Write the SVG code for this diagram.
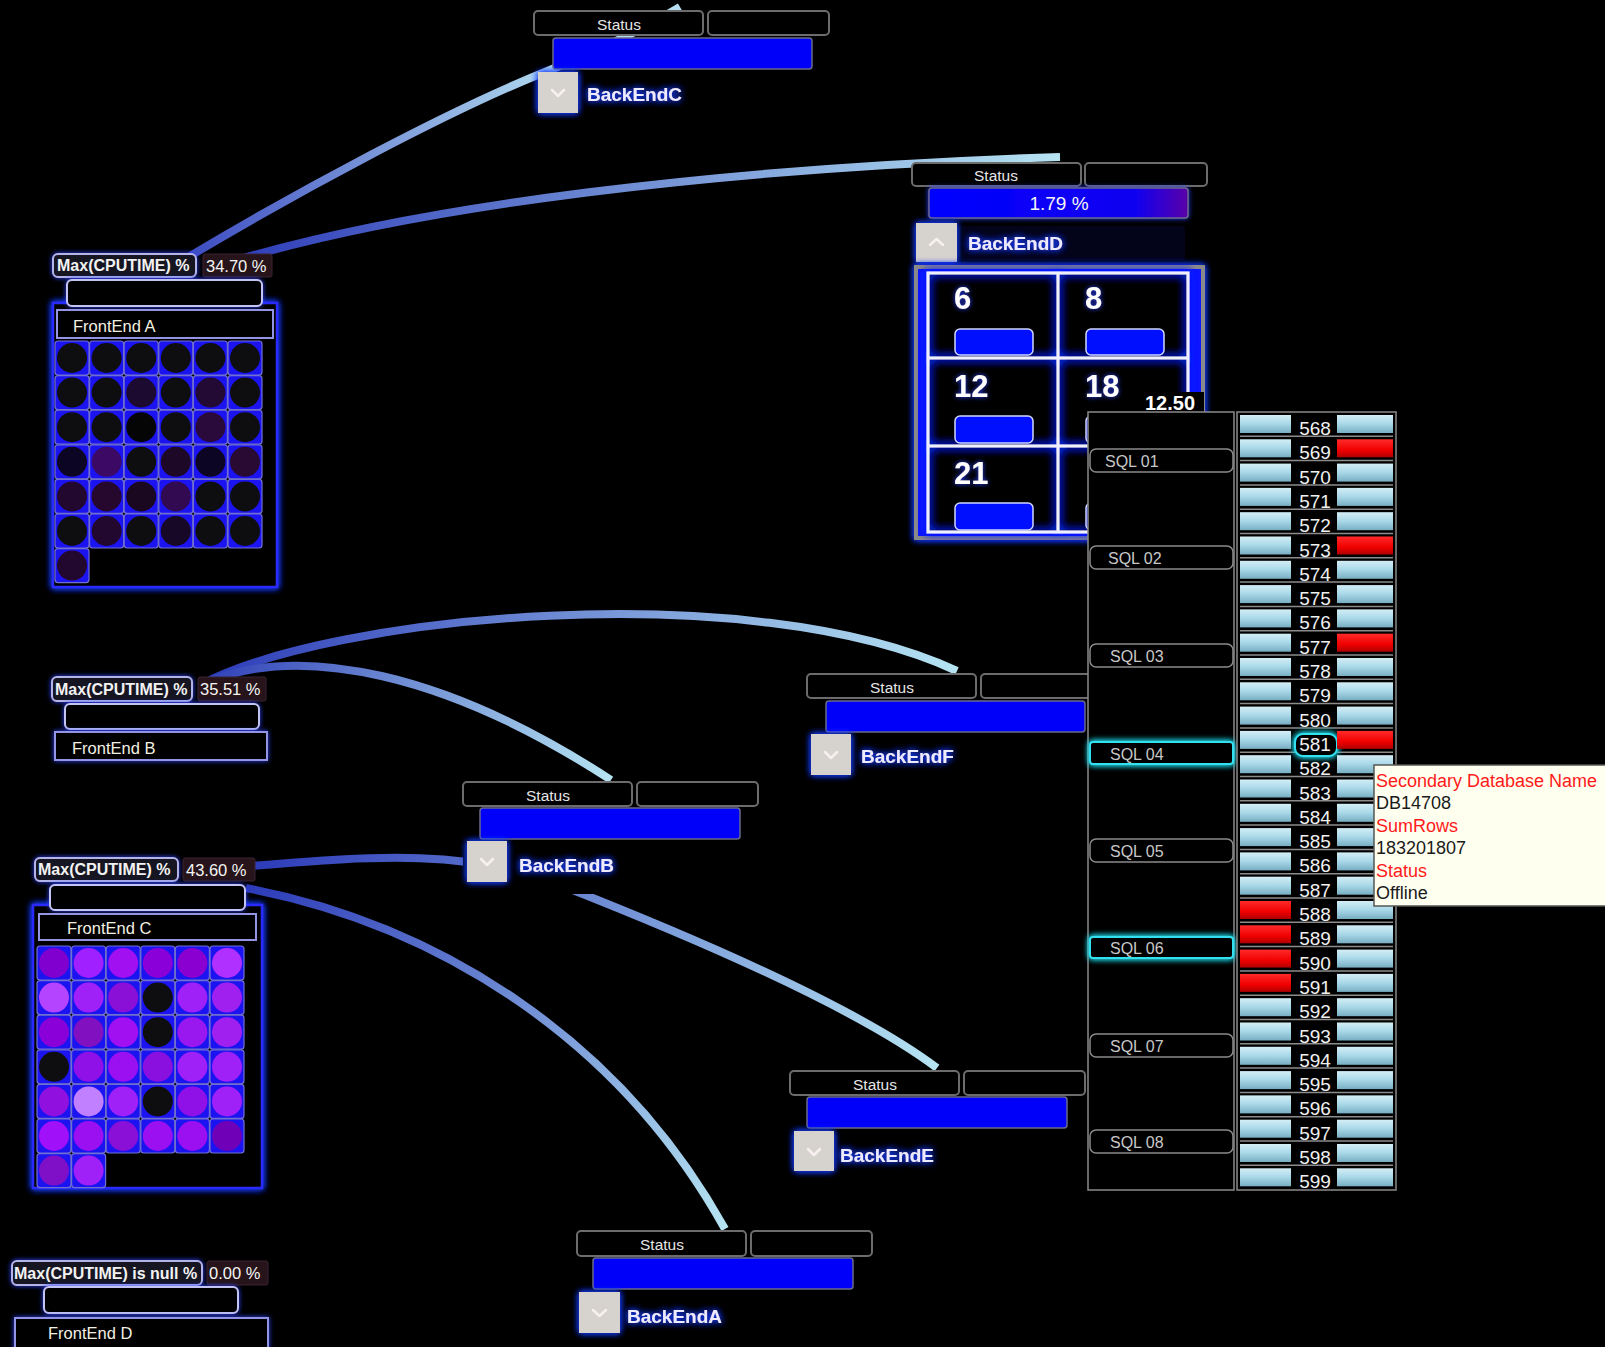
<svg xmlns="http://www.w3.org/2000/svg" width="1605" height="1347" viewBox="0 0 1605 1347">
<defs>
<style>
.ff{font-family:"Liberation Sans",Arial,sans-serif}
.st{fill:#000;stroke:#6c6c6c;stroke-width:2}
.bar{fill:#0000fa;stroke:#6a6a8a;stroke-width:1.5}
.tg{fill:#d6d2ce}
.chev{fill:none;stroke:#f8f0f0;stroke-width:2.5;stroke-linecap:round;stroke-linejoin:round}
.lbl{font-family:"Liberation Sans",Arial,sans-serif;font-weight:bold;font-size:19px;fill:#ecebff}
.sttxt{font-family:"Liberation Sans",Arial,sans-serif;font-size:15.5px;fill:#e6e6e6;text-anchor:middle}
.mx{fill:#141424;stroke:#b4b4e8;stroke-width:2}
.mxt{font-family:"Liberation Sans",Arial,sans-serif;font-weight:bold;font-size:16px;fill:#f2f2f2}
.val{fill:#26141a;stroke:#3a2232;stroke-width:1}
.valt{font-family:"Liberation Sans",Arial,sans-serif;font-size:16.5px;fill:#f4f4f4}
.eb{fill:#000;stroke:#c4c4f4;stroke-width:2}
.cont{fill:#000;stroke:#2a2aff;stroke-width:2.5}
.fl{fill:#000;stroke:#9494e4;stroke-width:2}
.flt{font-family:"Liberation Sans",Arial,sans-serif;font-size:16.5px;fill:#f2f0e2}
.cell{fill:#1c14f0;stroke:#7070d0;stroke-width:1.2}
.num{font-family:"Liberation Sans",Arial,sans-serif;font-weight:bold;font-size:31px;fill:#fff}
.cb{fill:#0010ff;stroke:#d0d6ff;stroke-width:1.5}
.sqlb{fill:#000;stroke:#8a8a8a;stroke-width:1.5}
.sqlt{font-family:"Liberation Sans",Arial,sans-serif;font-size:16px;fill:#c8c8c8}
.lb{fill:url(#gBlue)}
.rb{fill:url(#gRed)}
.rn{font-family:"Liberation Sans",Arial,sans-serif;font-size:19px;fill:#f0f0f0;text-anchor:middle}
.tr{font-family:"Liberation Sans",Arial,sans-serif;font-size:18px;fill:#ff1a1a}
.tb{font-family:"Liberation Sans",Arial,sans-serif;font-size:18px;fill:#1a1a1a}
.cn{fill:none;stroke-width:8}
</style>
<filter id="glow" x="-30%" y="-30%" width="160%" height="160%">
<feGaussianBlur in="SourceAlpha" stdDeviation="3.5" result="b"/>
<feFlood flood-color="#1a3cff"/>
<feComposite in2="b" operator="in" result="g"/>
<feMerge><feMergeNode in="g"/><feMergeNode in="g"/><feMergeNode in="SourceGraphic"/></feMerge>
</filter>
<filter id="glowS" x="-30%" y="-30%" width="160%" height="160%">
<feGaussianBlur in="SourceAlpha" stdDeviation="2.5" result="b"/>
<feFlood flood-color="#2a40ff"/>
<feComposite in2="b" operator="in" result="g"/>
<feMerge><feMergeNode in="g"/><feMergeNode in="SourceGraphic"/></feMerge>
</filter>
<filter id="glowL" x="-10%" y="-10%" width="120%" height="120%">
<feGaussianBlur in="SourceAlpha" stdDeviation="5" result="b"/>
<feFlood flood-color="#0a2aff"/>
<feComposite in2="b" operator="in" result="g"/>
<feMerge><feMergeNode in="g"/><feMergeNode in="g"/><feMergeNode in="g"/><feMergeNode in="SourceGraphic"/></feMerge>
</filter>
<filter id="glowC" x="-30%" y="-60%" width="160%" height="220%">
<feGaussianBlur in="SourceAlpha" stdDeviation="3" result="b"/>
<feFlood flood-color="#20d8e8"/>
<feComposite in2="b" operator="in" result="g"/>
<feMerge><feMergeNode in="g"/><feMergeNode in="g"/><feMergeNode in="SourceGraphic"/></feMerge>
</filter>
<linearGradient id="gBlue" x1="0" y1="0" x2="0" y2="1">
<stop offset="0" stop-color="#d4eef6"/><stop offset="0.5" stop-color="#a8d8e8"/><stop offset="1" stop-color="#78aec2"/>
</linearGradient>
<linearGradient id="gRed" x1="0" y1="0" x2="0" y2="1">
<stop offset="0" stop-color="#ff2a2a"/><stop offset="0.6" stop-color="#f00000"/><stop offset="1" stop-color="#b00000"/>
</linearGradient>
<linearGradient id="gD" x1="0" y1="0" x2="1" y2="0">
<stop offset="0" stop-color="#0000ff"/><stop offset="0.8" stop-color="#1000f0"/><stop offset="1" stop-color="#5a00a8"/>
</linearGradient>
<linearGradient id="c1" gradientUnits="userSpaceOnUse" x1="180" y1="262" x2="560" y2="60"><stop offset="0" stop-color="#3a48c0"/><stop offset="1" stop-color="#b4def0"/></linearGradient>
<linearGradient id="c2" gradientUnits="userSpaceOnUse" x1="230" y1="262" x2="1060" y2="157"><stop offset="0" stop-color="#2e3cb8"/><stop offset="1" stop-color="#b6e4f2"/></linearGradient>
<linearGradient id="c3" gradientUnits="userSpaceOnUse" x1="200" y1="685" x2="957" y2="671"><stop offset="0" stop-color="#2c3ab8"/><stop offset="1" stop-color="#b6e4f2"/></linearGradient>
<linearGradient id="c4" gradientUnits="userSpaceOnUse" x1="200" y1="685" x2="611" y2="780"><stop offset="0" stop-color="#3040b8"/><stop offset="1" stop-color="#b6e4f2"/></linearGradient>
<linearGradient id="c5" gradientUnits="userSpaceOnUse" x1="250" y1="866" x2="937" y2="1068"><stop offset="0" stop-color="#2c3ab8"/><stop offset="1" stop-color="#b6e4f2"/></linearGradient>
<linearGradient id="c6" gradientUnits="userSpaceOnUse" x1="246" y1="888" x2="725" y2="1229"><stop offset="0" stop-color="#2c3ab8"/><stop offset="1" stop-color="#b6e4f2"/></linearGradient>
<clipPath id="clipD"><rect x="900" y="380" width="304" height="40"/></clipPath>
</defs>
<rect x="0" y="0" width="1605" height="1347" fill="#000"/>

<g id="connectors">
<path class="cn" stroke="url(#c1)" d="M180,262 C300,190 450,110 545,72 C600,50 650,25 680,7"/>
<path class="cn" stroke="url(#c2)" d="M230,262 C420,205 720,168 1060,157"/>
<path class="cn" stroke="url(#c3)" d="M200,685 C330,615 750,575 957,671"/>
<path class="cn" stroke="url(#c4)" d="M200,685 C300,640 450,675 611,780"/>
<path class="cn" stroke="url(#c5)" d="M250,866 C380,855 470,850 560,885 C700,940 860,1010 937,1068"/>
<path class="cn" stroke="url(#c6)" d="M246,888 C440,925 620,1040 725,1229"/>
</g>

<g id="frontend-a">
<rect class="cont" x="53" y="303" width="224" height="284" filter="url(#glow)"/>
<rect class="mx" x="53" y="254" width="143" height="23" rx="5" filter="url(#glowS)"/>
<text class="mxt" x="57" y="271">Max(CPUTIME) %</text>
<rect class="val" x="203" y="254" width="69" height="23" rx="2"/>
<text class="valt" x="206" y="272">34.70 %</text>
<rect class="eb" x="67" y="280" width="195" height="26" rx="5" filter="url(#glowS)"/>
<rect class="fl" x="57" y="310" width="216" height="28"/>
<text class="flt" x="73" y="332">FrontEnd A</text>
<g>
<rect class="cell" x="55" y="341" width="34" height="34" rx="3"/><circle cx="72" cy="358" r="15" fill="#0e0e10"/>
<rect class="cell" x="89.6" y="341" width="34" height="34" rx="3"/><circle cx="106.6" cy="358" r="15" fill="#0e0e10"/>
<rect class="cell" x="124.2" y="341" width="34" height="34" rx="3"/><circle cx="141.2" cy="358" r="15" fill="#0e0e10"/>
<rect class="cell" x="158.8" y="341" width="34" height="34" rx="3"/><circle cx="175.8" cy="358" r="15" fill="#0e0e10"/>
<rect class="cell" x="193.4" y="341" width="34" height="34" rx="3"/><circle cx="210.4" cy="358" r="15" fill="#0e0e10"/>
<rect class="cell" x="228" y="341" width="34" height="34" rx="3"/><circle cx="245" cy="358" r="15" fill="#0e0e10"/>

<rect class="cell" x="55" y="375.6" width="34" height="34" rx="3"/><circle cx="72" cy="392.6" r="15" fill="#0e0e10"/>
<rect class="cell" x="89.6" y="375.6" width="34" height="34" rx="3"/><circle cx="106.6" cy="392.6" r="15" fill="#0e0e10"/>
<rect class="cell" x="124.2" y="375.6" width="34" height="34" rx="3"/><circle cx="141.2" cy="392.6" r="15" fill="#1c0a30"/>
<rect class="cell" x="158.8" y="375.6" width="34" height="34" rx="3"/><circle cx="175.8" cy="392.6" r="15" fill="#0e0e10"/>
<rect class="cell" x="193.4" y="375.6" width="34" height="34" rx="3"/><circle cx="210.4" cy="392.6" r="15" fill="#220a35"/>
<rect class="cell" x="228" y="375.6" width="34" height="34" rx="3"/><circle cx="245" cy="392.6" r="15" fill="#0e0e10"/>

<rect class="cell" x="55" y="410.2" width="34" height="34" rx="3"/><circle cx="72" cy="427.2" r="15" fill="#0e0e10"/>
<rect class="cell" x="89.6" y="410.2" width="34" height="34" rx="3"/><circle cx="106.6" cy="427.2" r="15" fill="#0e0e10"/>
<rect class="cell" x="124.2" y="410.2" width="34" height="34" rx="3"/><circle cx="141.2" cy="427.2" r="15" fill="#050505"/>
<rect class="cell" x="158.8" y="410.2" width="34" height="34" rx="3"/><circle cx="175.8" cy="427.2" r="15" fill="#0e0e10"/>
<rect class="cell" x="193.4" y="410.2" width="34" height="34" rx="3"/><circle cx="210.4" cy="427.2" r="15" fill="#2a0a3a"/>
<rect class="cell" x="228" y="410.2" width="34" height="34" rx="3"/><circle cx="245" cy="427.2" r="15" fill="#0e0e10"/>

<rect class="cell" x="55" y="444.8" width="34" height="34" rx="3"/><circle cx="72" cy="461.8" r="15" fill="#0c0624"/>
<rect class="cell" x="89.6" y="444.8" width="34" height="34" rx="3"/><circle cx="106.6" cy="461.8" r="15" fill="#3c0a64"/>
<rect class="cell" x="124.2" y="444.8" width="34" height="34" rx="3"/><circle cx="141.2" cy="461.8" r="15" fill="#0e0e10"/>
<rect class="cell" x="158.8" y="444.8" width="34" height="34" rx="3"/><circle cx="175.8" cy="461.8" r="15" fill="#1e0828"/>
<rect class="cell" x="193.4" y="444.8" width="34" height="34" rx="3"/><circle cx="210.4" cy="461.8" r="15" fill="#0c0624"/>
<rect class="cell" x="228" y="444.8" width="34" height="34" rx="3"/><circle cx="245" cy="461.8" r="15" fill="#280a32"/>

<rect class="cell" x="55" y="479.4" width="34" height="34" rx="3"/><circle cx="72" cy="496.4" r="15" fill="#22082e"/>
<rect class="cell" x="89.6" y="479.4" width="34" height="34" rx="3"/><circle cx="106.6" cy="496.4" r="15" fill="#26082e"/>
<rect class="cell" x="124.2" y="479.4" width="34" height="34" rx="3"/><circle cx="141.2" cy="496.4" r="15" fill="#1a0820"/>
<rect class="cell" x="158.8" y="479.4" width="34" height="34" rx="3"/><circle cx="175.8" cy="496.4" r="15" fill="#320a52"/>
<rect class="cell" x="193.4" y="479.4" width="34" height="34" rx="3"/><circle cx="210.4" cy="496.4" r="15" fill="#0e0e10"/>
<rect class="cell" x="228" y="479.4" width="34" height="34" rx="3"/><circle cx="245" cy="496.4" r="15" fill="#0e0e10"/>

<rect class="cell" x="55" y="514" width="34" height="34" rx="3"/><circle cx="72" cy="531" r="15" fill="#0e0e10"/>
<rect class="cell" x="89.6" y="514" width="34" height="34" rx="3"/><circle cx="106.6" cy="531" r="15" fill="#22082e"/>
<rect class="cell" x="124.2" y="514" width="34" height="34" rx="3"/><circle cx="141.2" cy="531" r="15" fill="#0e0e10"/>
<rect class="cell" x="158.8" y="514" width="34" height="34" rx="3"/><circle cx="175.8" cy="531" r="15" fill="#180828"/>
<rect class="cell" x="193.4" y="514" width="34" height="34" rx="3"/><circle cx="210.4" cy="531" r="15" fill="#0e0e10"/>
<rect class="cell" x="228" y="514" width="34" height="34" rx="3"/><circle cx="245" cy="531" r="15" fill="#0e0e10"/>

<rect class="cell" x="55" y="548.6" width="34" height="34" rx="3"/><circle cx="72" cy="565.6" r="15" fill="#22082e"/>
</g>
</g>

<g id="frontend-b">
<rect class="mx" x="52" y="677" width="140" height="24" rx="5" filter="url(#glowS)"/>
<text class="mxt" x="55" y="695">Max(CPUTIME) %</text>
<rect class="val" x="198" y="677" width="68" height="24" rx="2"/>
<text class="valt" x="200" y="695">35.51 %</text>
<rect class="eb" x="65" y="704" width="194" height="25" rx="5" filter="url(#glowS)"/>
<rect class="fl" x="55" y="732" width="212" height="28" filter="url(#glowS)"/>
<text class="flt" x="72" y="754">FrontEnd B</text>
</g>

<g id="frontend-c">
<rect class="cont" x="33" y="905" width="229" height="283" filter="url(#glow)"/>
<rect class="mx" x="35" y="858" width="143" height="23" rx="5" filter="url(#glowS)"/>
<text class="mxt" x="38" y="875">Max(CPUTIME) %</text>
<rect class="val" x="183" y="858" width="72" height="23" rx="2"/>
<text class="valt" x="186" y="876">43.60 %</text>
<rect class="eb" x="50" y="885" width="195" height="25" rx="5" filter="url(#glowS)"/>
<rect class="fl" x="39" y="914" width="217" height="26"/>
<text class="flt" x="67" y="934">FrontEnd C</text>
<g>
<rect class="cell" x="37" y="946" width="34" height="34" rx="3"/><circle cx="54" cy="963" r="15" fill="#8000d0"/>
<rect class="cell" x="71.6" y="946" width="34" height="34" rx="3"/><circle cx="88.6" cy="963" r="15" fill="#a020ff"/>
<rect class="cell" x="106.2" y="946" width="34" height="34" rx="3"/><circle cx="123.2" cy="963" r="15" fill="#a010f0"/>
<rect class="cell" x="140.8" y="946" width="34" height="34" rx="3"/><circle cx="157.8" cy="963" r="15" fill="#8a00d8"/>
<rect class="cell" x="175.4" y="946" width="34" height="34" rx="3"/><circle cx="192.4" cy="963" r="15" fill="#8a00d0"/>
<rect class="cell" x="210" y="946" width="34" height="34" rx="3"/><circle cx="227" cy="963" r="15" fill="#b030ff"/>

<rect class="cell" x="37" y="980.6" width="34" height="34" rx="3"/><circle cx="54" cy="997.6" r="15" fill="#b444ff"/>
<rect class="cell" x="71.6" y="980.6" width="34" height="34" rx="3"/><circle cx="88.6" cy="997.6" r="15" fill="#a020f8"/>
<rect class="cell" x="106.2" y="980.6" width="34" height="34" rx="3"/><circle cx="123.2" cy="997.6" r="15" fill="#8a10d8"/>
<rect class="cell" x="140.8" y="980.6" width="34" height="34" rx="3"/><circle cx="157.8" cy="997.6" r="15" fill="#0e0e10"/>
<rect class="cell" x="175.4" y="980.6" width="34" height="34" rx="3"/><circle cx="192.4" cy="997.6" r="15" fill="#a020f8"/>
<rect class="cell" x="210" y="980.6" width="34" height="34" rx="3"/><circle cx="227" cy="997.6" r="15" fill="#a020f0"/>

<rect class="cell" x="37" y="1015.2" width="34" height="34" rx="3"/><circle cx="54" cy="1032.2" r="15" fill="#8a00d8"/>
<rect class="cell" x="71.6" y="1015.2" width="34" height="34" rx="3"/><circle cx="88.6" cy="1032.2" r="15" fill="#8010c0"/>
<rect class="cell" x="106.2" y="1015.2" width="34" height="34" rx="3"/><circle cx="123.2" cy="1032.2" r="15" fill="#a010f0"/>
<rect class="cell" x="140.8" y="1015.2" width="34" height="34" rx="3"/><circle cx="157.8" cy="1032.2" r="15" fill="#0e0e10"/>
<rect class="cell" x="175.4" y="1015.2" width="34" height="34" rx="3"/><circle cx="192.4" cy="1032.2" r="15" fill="#9a18f0"/>
<rect class="cell" x="210" y="1015.2" width="34" height="34" rx="3"/><circle cx="227" cy="1032.2" r="15" fill="#a020f0"/>

<rect class="cell" x="37" y="1049.8" width="34" height="34" rx="3"/><circle cx="54" cy="1066.8" r="15" fill="#0e0e10"/>
<rect class="cell" x="71.6" y="1049.8" width="34" height="34" rx="3"/><circle cx="88.6" cy="1066.8" r="15" fill="#9010e8"/>
<rect class="cell" x="106.2" y="1049.8" width="34" height="34" rx="3"/><circle cx="123.2" cy="1066.8" r="15" fill="#9a10f0"/>
<rect class="cell" x="140.8" y="1049.8" width="34" height="34" rx="3"/><circle cx="157.8" cy="1066.8" r="15" fill="#8a10e0"/>
<rect class="cell" x="175.4" y="1049.8" width="34" height="34" rx="3"/><circle cx="192.4" cy="1066.8" r="15" fill="#a020f8"/>
<rect class="cell" x="210" y="1049.8" width="34" height="34" rx="3"/><circle cx="227" cy="1066.8" r="15" fill="#a020f8"/>

<rect class="cell" x="37" y="1084.4" width="34" height="34" rx="3"/><circle cx="54" cy="1101.4" r="15" fill="#9010e0"/>
<rect class="cell" x="71.6" y="1084.4" width="34" height="34" rx="3"/><circle cx="88.6" cy="1101.4" r="15" fill="#c080ff"/>
<rect class="cell" x="106.2" y="1084.4" width="34" height="34" rx="3"/><circle cx="123.2" cy="1101.4" r="15" fill="#a020f8"/>
<rect class="cell" x="140.8" y="1084.4" width="34" height="34" rx="3"/><circle cx="157.8" cy="1101.4" r="15" fill="#0e0e10"/>
<rect class="cell" x="175.4" y="1084.4" width="34" height="34" rx="3"/><circle cx="192.4" cy="1101.4" r="15" fill="#9010e8"/>
<rect class="cell" x="210" y="1084.4" width="34" height="34" rx="3"/><circle cx="227" cy="1101.4" r="15" fill="#a020f8"/>

<rect class="cell" x="37" y="1119" width="34" height="34" rx="3"/><circle cx="54" cy="1136" r="15" fill="#a010f8"/>
<rect class="cell" x="71.6" y="1119" width="34" height="34" rx="3"/><circle cx="88.6" cy="1136" r="15" fill="#9a10f0"/>
<rect class="cell" x="106.2" y="1119" width="34" height="34" rx="3"/><circle cx="123.2" cy="1136" r="15" fill="#8a10d8"/>
<rect class="cell" x="140.8" y="1119" width="34" height="34" rx="3"/><circle cx="157.8" cy="1136" r="15" fill="#9a10f0"/>
<rect class="cell" x="175.4" y="1119" width="34" height="34" rx="3"/><circle cx="192.4" cy="1136" r="15" fill="#9a10f0"/>
<rect class="cell" x="210" y="1119" width="34" height="34" rx="3"/><circle cx="227" cy="1136" r="15" fill="#7000b8"/>

<rect class="cell" x="37" y="1153.6" width="34" height="34" rx="3"/><circle cx="54" cy="1170.6" r="15" fill="#8010c8"/>
<rect class="cell" x="71.6" y="1153.6" width="34" height="34" rx="3"/><circle cx="88.6" cy="1170.6" r="15" fill="#a020f8"/>
</g>
</g>

<g id="frontend-d">
<rect class="mx" x="12" y="1261" width="190" height="24" rx="5" filter="url(#glowS)"/>
<text class="mxt" x="14" y="1279">Max(CPUTIME) is null %</text>
<rect class="val" x="207" y="1261" width="61" height="24" rx="2"/>
<text class="valt" x="209" y="1279">0.00 %</text>
<rect class="eb" x="44" y="1287" width="194" height="26" rx="5" filter="url(#glowS)"/>
<rect class="fl" x="15" y="1318" width="253" height="34" filter="url(#glowS)"/>
<text class="flt" x="48" y="1339">FrontEnd D</text>
</g>

<g id="backend-c" transform="translate(534,11)">
<rect class="st" x="0" y="0" width="169" height="24" rx="4"/>
<text class="sttxt" x="85" y="19">Status</text>
<rect class="st" x="174" y="0" width="121" height="24" rx="4"/>
<rect class="bar" x="19" y="27" width="259" height="31" rx="3"/>
<rect class="tg" x="4" y="61" width="40" height="41" filter="url(#glow)"/>
<polyline class="chev" points="18,79 24,85 30,79"/>
<text class="lbl" x="53" y="90" filter="url(#glow)">BackEndC</text>
</g>

<g id="backend-f" transform="translate(807,674)">
<rect class="st" x="0" y="0" width="169" height="24" rx="4"/>
<text class="sttxt" x="85" y="19">Status</text>
<rect class="st" x="174" y="0" width="121" height="24" rx="4"/>
<rect class="bar" x="19" y="27" width="259" height="31" rx="3"/>
<rect class="tg" x="4" y="60" width="40" height="41" filter="url(#glow)"/>
<polyline class="chev" points="18,78 24,84 30,78"/>
<text class="lbl" x="54" y="89" filter="url(#glow)">BackEndF</text>
</g>

<g id="backend-b" transform="translate(463,782)">
<rect x="0" y="56" width="160" height="56" fill="#000"/>
<rect class="st" x="0" y="0" width="169" height="24" rx="4"/>
<text class="sttxt" x="85" y="19">Status</text>
<rect class="st" x="174" y="0" width="121" height="24" rx="4"/>
<rect class="bar" x="17" y="26" width="260" height="31" rx="3"/>
<rect class="tg" x="4" y="59" width="40" height="41" filter="url(#glow)"/>
<polyline class="chev" points="18,77 24,83 30,77"/>
<text class="lbl" x="56" y="90" filter="url(#glow)">BackEndB</text>
</g>

<g id="backend-e" transform="translate(790,1071)">
<rect class="st" x="0" y="0" width="169" height="24" rx="4"/>
<text class="sttxt" x="85" y="19">Status</text>
<rect class="st" x="174" y="0" width="121" height="24" rx="4"/>
<rect class="bar" x="17" y="26" width="260" height="31" rx="3"/>
<rect class="tg" x="4" y="60" width="40" height="40" filter="url(#glow)"/>
<polyline class="chev" points="18,78 24,84 30,78"/>
<text class="lbl" x="50" y="91" filter="url(#glow)">BackEndE</text>
</g>

<g id="backend-a" transform="translate(577,1231)">
<rect class="st" x="0" y="0" width="169" height="25" rx="4"/>
<text class="sttxt" x="85" y="19">Status</text>
<rect class="st" x="174" y="0" width="121" height="25" rx="4"/>
<rect class="bar" x="16" y="27" width="260" height="31" rx="3"/>
<rect class="tg" x="2" y="61" width="41" height="41" filter="url(#glow)"/>
<polyline class="chev" points="16,79 22.5,85 29,79"/>
<text class="lbl" x="50" y="92" filter="url(#glow)">BackEndA</text>
</g>

<g id="backend-d">
<rect class="st" x="912" y="163" width="169" height="23" rx="4"/>
<text class="sttxt" x="996" y="181">Status</text>
<rect class="st" x="1085" y="163" width="122" height="23" rx="4"/>
<rect x="929" y="188" width="259" height="30" rx="3" fill="url(#gD)" stroke="#6a6a8a" stroke-width="1.5" filter="url(#glowS)"/>
<text class="ff" x="1059" y="210" font-size="19" fill="#f4f4f4" text-anchor="middle">1.79 %</text>
<rect x="963" y="226" width="222" height="34" fill="#03031a"/>
<rect class="tg" x="916" y="223" width="41" height="39" filter="url(#glow)"/>
<polyline class="chev" points="930,245 936.5,239 943,245"/>
<text class="lbl" x="968" y="250" filter="url(#glow)">BackEndD</text>
<rect x="916" y="267" width="287" height="271" fill="#0818ff" stroke="#8a8a8a" stroke-width="4" filter="url(#glow)"/>
<rect x="928" y="273" width="260" height="259" fill="#000"/>
<g fill="none" stroke="#eef0ff" stroke-width="3" filter="url(#glowL)">
<rect x="928" y="273" width="260" height="259"/>
<line x1="1058" y1="273" x2="1058" y2="532"/>
<line x1="928" y1="358" x2="1188" y2="358"/>
<line x1="928" y1="446" x2="1188" y2="446"/>
</g>
<rect class="cb" x="955" y="329" width="78" height="26" rx="5"/>
<rect class="cb" x="1086" y="329" width="78" height="26" rx="5"/>
<rect class="cb" x="955" y="416" width="78" height="27" rx="5"/>
<rect class="cb" x="1086" y="416" width="78" height="27" rx="5"/>
<rect class="cb" x="955" y="503" width="78" height="27" rx="5"/>
<rect class="cb" x="1086" y="503" width="78" height="27" rx="5"/>
<g filter="url(#glowS)">
<text class="num" x="954" y="309">6</text>
<text class="num" x="1085" y="309">8</text>
<text class="num" x="954" y="397">12</text>
<text class="num" x="1085" y="397">18</text>
<text class="num" x="954" y="484">21</text>
</g>
<g clip-path="url(#clipD)">
<rect x="1140" y="392" width="66" height="22" fill="#000"/>
<text class="ff" x="1145" y="410" font-size="20" font-weight="bold" fill="#fff">12.50</text>
</g>
</g>

<g id="sql-panel">
<rect x="1088" y="412" width="146" height="778" fill="#000" stroke="#8a8a8a" stroke-width="1.5"/>
<rect class="sqlb" x="1090" y="449" width="143" height="23" rx="6"/><text class="sqlt" x="1105" y="467">SQL 01</text>
<rect class="sqlb" x="1090" y="546" width="143" height="23" rx="6"/><text class="sqlt" x="1108" y="564">SQL 02</text>
<rect class="sqlb" x="1090" y="644" width="143" height="23" rx="6"/><text class="sqlt" x="1110" y="662">SQL 03</text>
<rect x="1090" y="742" width="143" height="22" rx="3" fill="#000" stroke="#30e0f0" stroke-width="2" filter="url(#glowC)"/><text class="sqlt" x="1110" y="760">SQL 04</text>
<rect class="sqlb" x="1090" y="839" width="143" height="23" rx="6"/><text class="sqlt" x="1110" y="857">SQL 05</text>
<rect x="1090" y="937" width="143" height="21" rx="3" fill="#000" stroke="#30e0f0" stroke-width="2" filter="url(#glowC)"/><text class="sqlt" x="1110" y="954">SQL 06</text>
<rect class="sqlb" x="1090" y="1034" width="143" height="23" rx="6"/><text class="sqlt" x="1110" y="1052">SQL 07</text>
<rect class="sqlb" x="1090" y="1130" width="143" height="23" rx="6"/><text class="sqlt" x="1110" y="1148">SQL 08</text>

<rect x="1237" y="412" width="159" height="778" fill="#000" stroke="#8a8a8a" stroke-width="1.5"/>
<g stroke="#8c8c8c" stroke-width="1.5">
<line x1="1240" y1="436.3" x2="1393" y2="436.3"/><line x1="1240" y1="460.6" x2="1393" y2="460.6"/><line x1="1240" y1="484.9" x2="1393" y2="484.9"/><line x1="1240" y1="509.2" x2="1393" y2="509.2"/>
<line x1="1240" y1="533.5" x2="1393" y2="533.5"/><line x1="1240" y1="557.8" x2="1393" y2="557.8"/><line x1="1240" y1="582.1" x2="1393" y2="582.1"/><line x1="1240" y1="606.4" x2="1393" y2="606.4"/>
<line x1="1240" y1="630.7" x2="1393" y2="630.7"/><line x1="1240" y1="655" x2="1393" y2="655"/><line x1="1240" y1="679.3" x2="1393" y2="679.3"/><line x1="1240" y1="703.6" x2="1393" y2="703.6"/>
<line x1="1240" y1="727.9" x2="1393" y2="727.9"/><line x1="1240" y1="752.2" x2="1393" y2="752.2"/><line x1="1240" y1="776.5" x2="1393" y2="776.5"/><line x1="1240" y1="800.8" x2="1393" y2="800.8"/>
<line x1="1240" y1="825.1" x2="1393" y2="825.1"/><line x1="1240" y1="849.4" x2="1393" y2="849.4"/><line x1="1240" y1="873.7" x2="1393" y2="873.7"/><line x1="1240" y1="898" x2="1393" y2="898"/>
<line x1="1240" y1="922.3" x2="1393" y2="922.3"/><line x1="1240" y1="946.6" x2="1393" y2="946.6"/><line x1="1240" y1="970.9" x2="1393" y2="970.9"/><line x1="1240" y1="995.2" x2="1393" y2="995.2"/>
<line x1="1240" y1="1019.5" x2="1393" y2="1019.5"/><line x1="1240" y1="1043.8" x2="1393" y2="1043.8"/><line x1="1240" y1="1068.1" x2="1393" y2="1068.1"/><line x1="1240" y1="1092.4" x2="1393" y2="1092.4"/>
<line x1="1240" y1="1116.7" x2="1393" y2="1116.7"/><line x1="1240" y1="1141" x2="1393" y2="1141"/><line x1="1240" y1="1165.3" x2="1393" y2="1165.3"/>
</g>
<rect x="1295" y="734" width="42" height="22" rx="8" fill="#000" stroke="#30e0f0" stroke-width="2" filter="url(#glowC)"/>
<g>
<rect class="lb" x="1240" y="415" width="51" height="18"/><rect class="lb" x="1337" y="415" width="56" height="18"/><text class="rn" x="1315" y="435">568</text>
<rect class="lb" x="1240" y="439.3" width="51" height="18"/><rect class="rb" x="1337" y="439.3" width="56" height="18"/><text class="rn" x="1315" y="459.3">569</text>
<rect class="lb" x="1240" y="463.6" width="51" height="18"/><rect class="lb" x="1337" y="463.6" width="56" height="18"/><text class="rn" x="1315" y="483.6">570</text>
<rect class="lb" x="1240" y="487.9" width="51" height="18"/><rect class="lb" x="1337" y="487.9" width="56" height="18"/><text class="rn" x="1315" y="507.9">571</text>
<rect class="lb" x="1240" y="512.2" width="51" height="18"/><rect class="lb" x="1337" y="512.2" width="56" height="18"/><text class="rn" x="1315" y="532.2">572</text>
<rect class="lb" x="1240" y="536.5" width="51" height="18"/><rect class="rb" x="1337" y="536.5" width="56" height="18"/><text class="rn" x="1315" y="556.5">573</text>
<rect class="lb" x="1240" y="560.8" width="51" height="18"/><rect class="lb" x="1337" y="560.8" width="56" height="18"/><text class="rn" x="1315" y="580.8">574</text>
<rect class="lb" x="1240" y="585.1" width="51" height="18"/><rect class="lb" x="1337" y="585.1" width="56" height="18"/><text class="rn" x="1315" y="605.1">575</text>
<rect class="lb" x="1240" y="609.4" width="51" height="18"/><rect class="lb" x="1337" y="609.4" width="56" height="18"/><text class="rn" x="1315" y="629.4">576</text>
<rect class="lb" x="1240" y="633.7" width="51" height="18"/><rect class="rb" x="1337" y="633.7" width="56" height="18"/><text class="rn" x="1315" y="653.7">577</text>
<rect class="lb" x="1240" y="658" width="51" height="18"/><rect class="lb" x="1337" y="658" width="56" height="18"/><text class="rn" x="1315" y="678">578</text>
<rect class="lb" x="1240" y="682.3" width="51" height="18"/><rect class="lb" x="1337" y="682.3" width="56" height="18"/><text class="rn" x="1315" y="702.3">579</text>
<rect class="lb" x="1240" y="706.6" width="51" height="18"/><rect class="lb" x="1337" y="706.6" width="56" height="18"/><text class="rn" x="1315" y="726.6">580</text>
<rect class="lb" x="1240" y="730.9" width="51" height="18"/><rect class="rb" x="1337" y="730.9" width="56" height="18"/><text class="rn" x="1315" y="750.9">581</text>
<rect class="lb" x="1240" y="755.2" width="51" height="18"/><rect class="lb" x="1337" y="755.2" width="56" height="18"/><text class="rn" x="1315" y="775.2">582</text>
<rect class="lb" x="1240" y="779.5" width="51" height="18"/><rect class="lb" x="1337" y="779.5" width="56" height="18"/><text class="rn" x="1315" y="799.5">583</text>
<rect class="lb" x="1240" y="803.8" width="51" height="18"/><rect class="lb" x="1337" y="803.8" width="56" height="18"/><text class="rn" x="1315" y="823.8">584</text>
<rect class="lb" x="1240" y="828.1" width="51" height="18"/><rect class="lb" x="1337" y="828.1" width="56" height="18"/><text class="rn" x="1315" y="848.1">585</text>
<rect class="lb" x="1240" y="852.4" width="51" height="18"/><rect class="lb" x="1337" y="852.4" width="56" height="18"/><text class="rn" x="1315" y="872.4">586</text>
<rect class="lb" x="1240" y="876.7" width="51" height="18"/><rect class="lb" x="1337" y="876.7" width="56" height="18"/><text class="rn" x="1315" y="896.7">587</text>
<rect class="rb" x="1240" y="901" width="51" height="18"/><rect class="lb" x="1337" y="901" width="56" height="18"/><text class="rn" x="1315" y="921">588</text>
<rect class="rb" x="1240" y="925.3" width="51" height="18"/><rect class="lb" x="1337" y="925.3" width="56" height="18"/><text class="rn" x="1315" y="945.3">589</text>
<rect class="rb" x="1240" y="949.6" width="51" height="18"/><rect class="lb" x="1337" y="949.6" width="56" height="18"/><text class="rn" x="1315" y="969.6">590</text>
<rect class="rb" x="1240" y="973.9" width="51" height="18"/><rect class="lb" x="1337" y="973.9" width="56" height="18"/><text class="rn" x="1315" y="993.9">591</text>
<rect class="lb" x="1240" y="998.2" width="51" height="18"/><rect class="lb" x="1337" y="998.2" width="56" height="18"/><text class="rn" x="1315" y="1018.2">592</text>
<rect class="lb" x="1240" y="1022.5" width="51" height="18"/><rect class="lb" x="1337" y="1022.5" width="56" height="18"/><text class="rn" x="1315" y="1042.5">593</text>
<rect class="lb" x="1240" y="1046.8" width="51" height="18"/><rect class="lb" x="1337" y="1046.8" width="56" height="18"/><text class="rn" x="1315" y="1066.8">594</text>
<rect class="lb" x="1240" y="1071.1" width="51" height="18"/><rect class="lb" x="1337" y="1071.1" width="56" height="18"/><text class="rn" x="1315" y="1091.1">595</text>
<rect class="lb" x="1240" y="1095.4" width="51" height="18"/><rect class="lb" x="1337" y="1095.4" width="56" height="18"/><text class="rn" x="1315" y="1115.4">596</text>
<rect class="lb" x="1240" y="1119.7" width="51" height="18"/><rect class="lb" x="1337" y="1119.7" width="56" height="18"/><text class="rn" x="1315" y="1139.7">597</text>
<rect class="lb" x="1240" y="1144" width="51" height="18"/><rect class="lb" x="1337" y="1144" width="56" height="18"/><text class="rn" x="1315" y="1164">598</text>
<rect class="lb" x="1240" y="1168.3" width="51" height="18"/><rect class="lb" x="1337" y="1168.3" width="56" height="18"/><text class="rn" x="1315" y="1188.3">599</text>
</g>
</g>

<g id="tooltip">
<rect x="1374" y="765" width="232" height="141" fill="#fffff0" stroke="#555" stroke-width="1.5"/>
<text class="tr" x="1376" y="787">Secondary Database Name</text>
<text class="tb" x="1376" y="809">DB14708</text>
<text class="tr" x="1376" y="832">SumRows</text>
<text class="tb" x="1376" y="854">183201807</text>
<text class="tr" x="1376" y="877">Status</text>
<text class="tb" x="1376" y="899">Offline</text>
</g>
</svg>
